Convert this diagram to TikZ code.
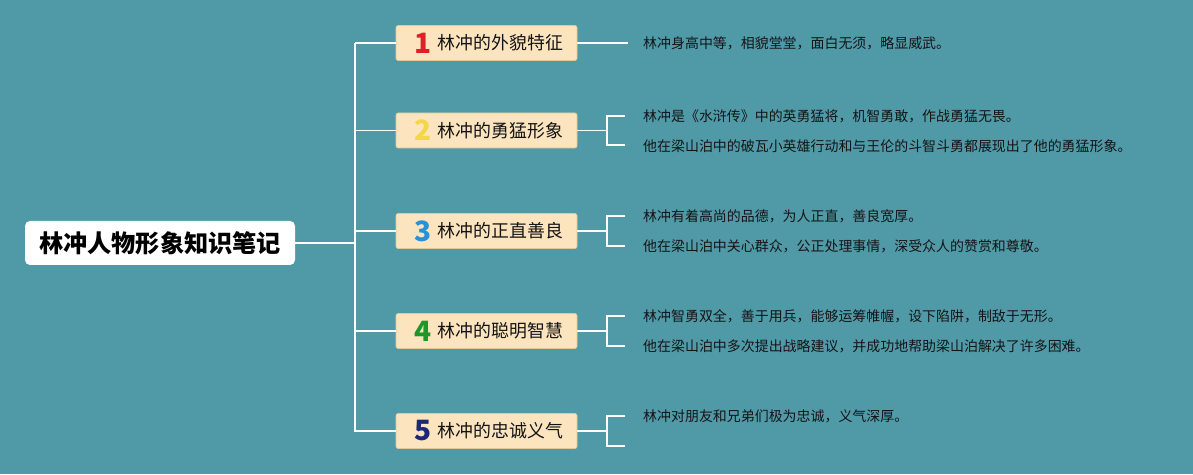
\documentclass[tikz,border=0pt]{standalone}
\usepackage{fontspec}
\newfontfamily\cjk{Noto Sans CJK SC}
\definecolor{bg}{RGB}{80,154,168}
\definecolor{boxfill}{RGB}{252,229,190}
\definecolor{boxline}{RGB}{225,200,150}
\definecolor{n1}{RGB}{222,32,40}
\definecolor{n2}{RGB}{245,215,70}
\definecolor{n3}{RGB}{40,145,215}
\definecolor{n4}{RGB}{30,150,40}
\definecolor{n5}{RGB}{30,40,120}
\definecolor{txt}{RGB}{20,20,20}
\tikzset{
  x=1pt,y=1pt,
  conn/.style={draw=white,line width=1.6pt},
  rootbox/.style={fill=white,rounded corners=5pt,minimum width=270pt,minimum height=44pt,inner sep=0pt,font=\cjk\bfseries\fontsize{24.2}{27}\selectfont,text=black},
  topic/.style={fill=boxfill,draw=boxline,line width=0.6pt,rounded corners=2pt,minimum width=181pt,minimum height=35pt,inner sep=0pt,font=\cjk\fontsize{17.9}{20}\selectfont,text=txt},
  leaf/.style={anchor=west,inner sep=0pt,font=\cjk\fontsize{13.95}{16}\selectfont,text=txt},
  num/.style={font=\cjk\bfseries\fontsize{28}{30}\selectfont}
}
\begin{document}
\begin{tikzpicture}
\fill[bg] (0,0) rectangle (1193,474);
\useasboundingbox (0,0) rectangle (1193,474);
% root
\node[rootbox] (root) at (160,231) {林冲人物形象知识笔记};
\coordinate (trunkM) at (355,231);
\coordinate (trunkT) at (355,431);
\coordinate (trunkB) at (355,42);
\draw[conn] (root.east) -- (trunkM);
\draw[conn] (trunkT) -- (trunkB);
% topics
\node[topic] (t1) at (486.5,431) {\hspace*{28pt}林冲的外貌特征};
\node[topic] (t2) at (486.5,343.5) {\hspace*{28pt}林冲的勇猛形象};
\node[topic] (t3) at (486.5,243) {\hspace*{28pt}林冲的正直善良};
\node[topic] (t4) at (486.5,143) {\hspace*{28pt}林冲的聪明智慧};
\node[topic] (t5) at (486.5,43) {\hspace*{28pt}林冲的忠诚义气};
\node[num,text=n1] (d1) at ([xshift=27pt]t1.west) {1};
\node[num,text=n2] (d2) at ([xshift=27pt]t2.west) {2};
\node[num,text=n3] (d3) at ([xshift=27pt]t3.west) {3};
\node[num,text=n4] (d4) at ([xshift=27pt]t4.west) {4};
\node[num,text=n5] (d5) at ([xshift=27pt]t5.west) {5};
\foreach \t in {t1,t2,t3,t4,t5}{
  \draw[conn] (trunkM |- \t.west) -- (\t.west);
}
% topic 1
\coordinate (e1) at (628,431);
\draw[conn] (t1.east) -- (e1);
\node[leaf] (l1) at (643,431) {林冲身高中等，相貌堂堂，面白无须，略显威武。};
% brackets
\foreach \t/\ya/\yb in {t2/358/329, t3/258/228, t4/158/128, t5/58/28}{
  \coordinate (\t m) at (607,0 |- \t.east);
  \draw[conn] (\t.east) -- (\t m);
  \draw[conn] (625,\ya) -- (607,\ya) -- (607,\yb) -- (625,\yb);
}
\node[leaf] (l21) at (643,358) {林冲是《水浒传》中的英勇猛将，机智勇敢，作战勇猛无畏。};
\node[leaf] (l22) at (643,328) {他在梁山泊中的破瓦小英雄行动和与王伦的斗智斗勇都展现出了他的勇猛形象。};
\node[leaf] (l31) at (643,258) {林冲有着高尚的品德，为人正直，善良宽厚。};
\node[leaf] (l32) at (643,228) {他在梁山泊中关心群众，公正处理事情，深受众人的赞赏和尊敬。};
\node[leaf] (l41) at (643,158) {林冲智勇双全，善于用兵，能够运筹帷幄，设下陷阱，制敌于无形。};
\node[leaf] (l42) at (643,128) {他在梁山泊中多次提出战略建议，并成功地帮助梁山泊解决了许多困难。};
\node[leaf] (l51) at (643,58) {林冲对朋友和兄弟们极为忠诚，义气深厚。};
\end{tikzpicture}
\end{document}
